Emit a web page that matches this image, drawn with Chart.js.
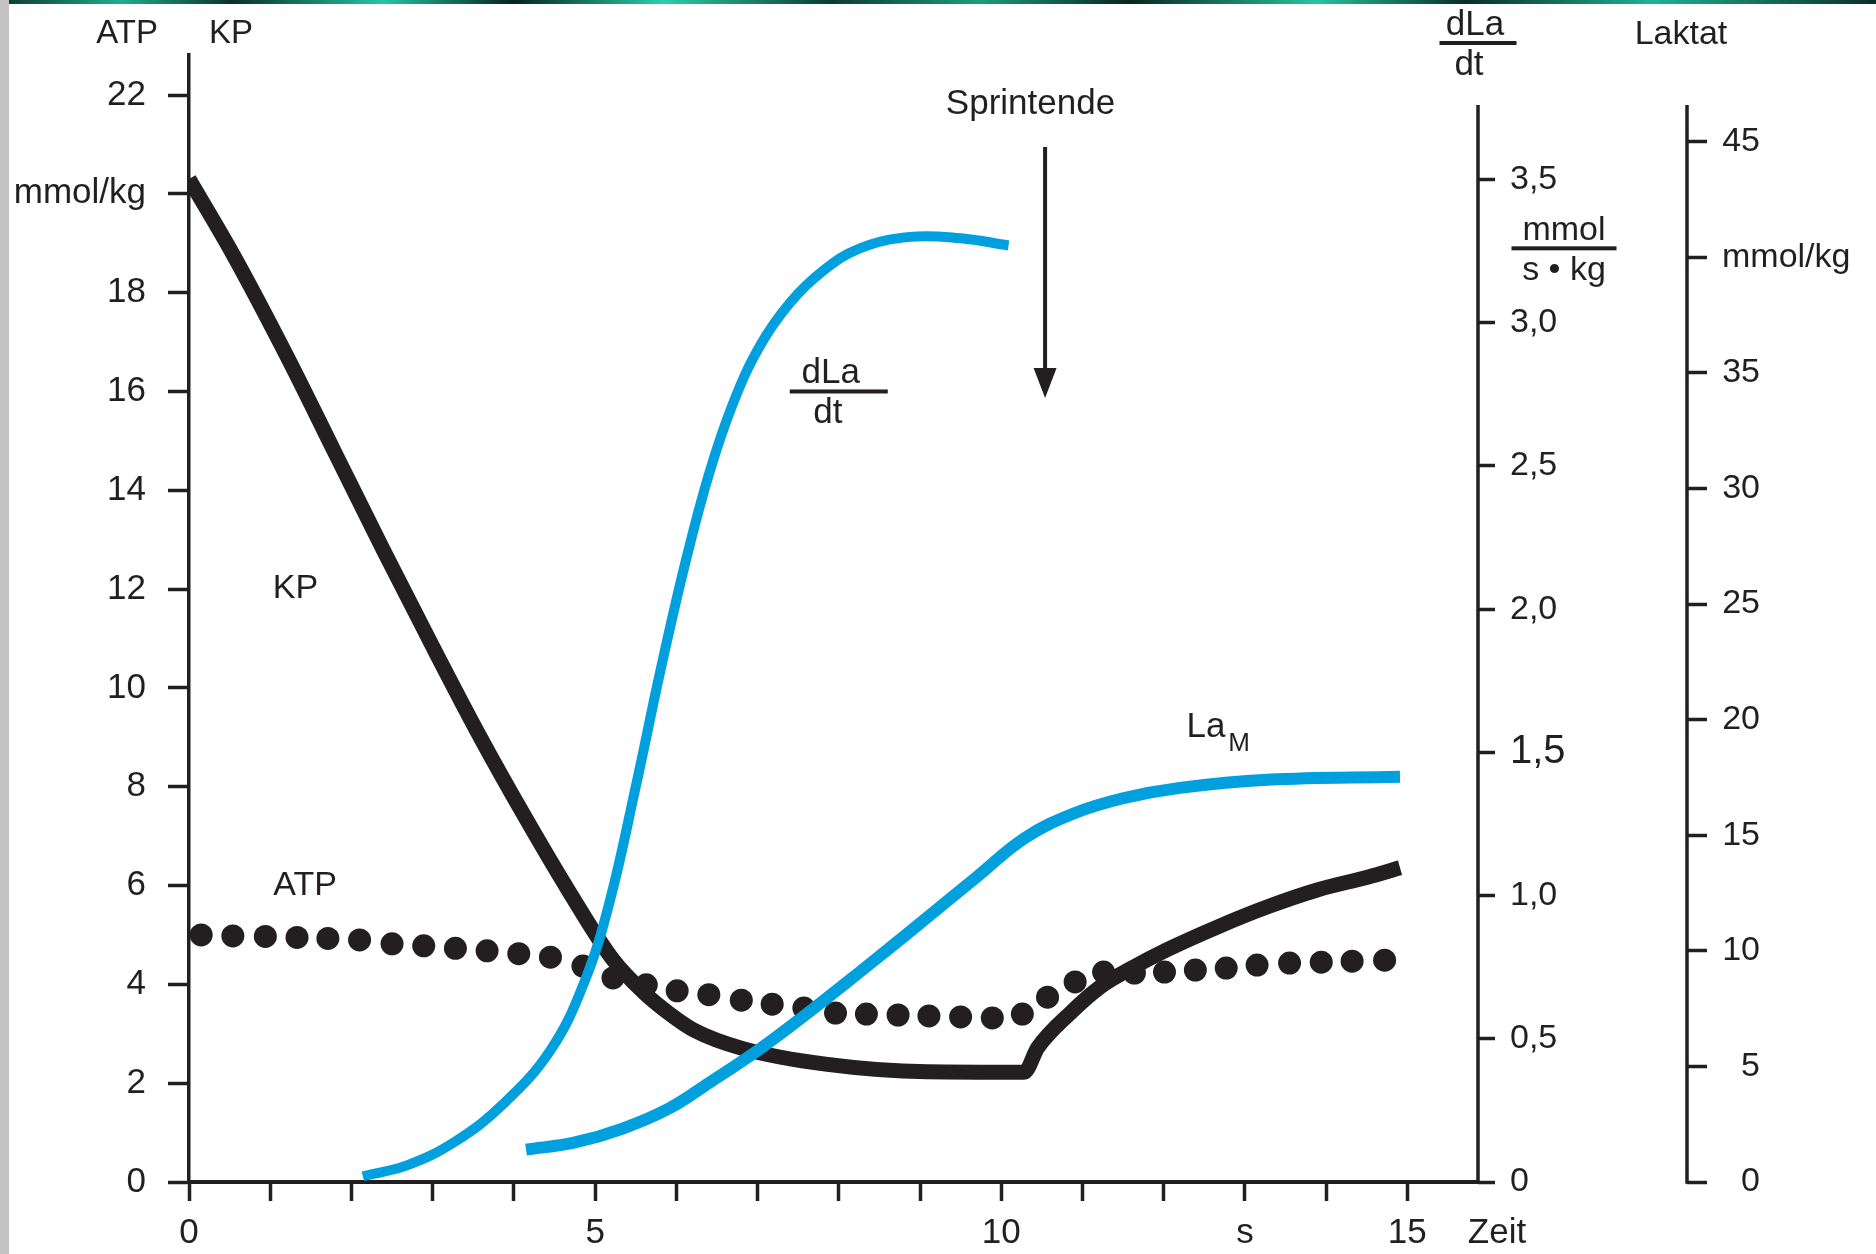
<!DOCTYPE html>
<html lang="de">
<head>
<meta charset="utf-8">
<title>ATP, KP und Laktat im Sprint</title>
<script src="https://cdn.jsdelivr.net/npm/chart.js@4.4.1/dist/chart.umd.min.js"></script>
<style>
  html, body { margin: 0; padding: 0; background: #fff; }
  #wrap { position: relative; width: 1876px; height: 1254px; overflow: hidden; }
  #sprint-chart { position: absolute; left: 0; top: 0; }
  #edge-left { position: absolute; left: 0; top: 0; width: 9px; height: 100%; background: #c3c3c3; }
  #edge-top {
    position: absolute; left: 9px; right: 0; top: 0; height: 4px;
    background: linear-gradient(90deg, #0f3d37 0%, #1fae8f 6%, #0b2f2b 12%, #23c7a3 20%, #06221f 27%,
      #2ad0aa 35%, #0d3a34 44%, #1b9d80 52%, #08251f 60%, #26c4a0 70%, #0a2d29 78%, #1eb393 88%, #0b2c28 100%);
  }
</style>
</head>
<body>
<div id="wrap">
  <canvas id="sprint-chart" width="1876" height="1254"></canvas>
  <div id="edge-left"></div>
  <div id="edge-top"></div>
</div>
<script>
// time axis (s)
var timeTicks = [0, 1, 2, 3, 4, 5, 6, 7, 8, 9, 10, 11, 12, 13, 14, 15];
var timeTickLabels = ['0', '', '', '', '', '5', '', '', '', '', '10', '', '', 's', '', '15'];

// left axis: ATP / KP in mmol/kg
var leftTicks = [0, 2, 4, 6, 8, 10, 12, 14, 16, 18, 20, 22];
var leftTickLabels = ['0', '2', '4', '6', '8', '10', '12', '14', '16', '18', 'mmol/kg', '22'];

// first right axis: dLa/dt in mmol/(s*kg)
var dlaTicks = [0, 0.5, 1, 1.5, 2, 2.5, 3, 3.5];
var dlaTickLabels = ['0', '0,5', '1,0', '1,5', '2,0', '2,5', '3,0', '3,5'];

// second right axis: Laktat in mmol/kg
var laktatTicks = [0, 5, 10, 15, 20, 25, 30, 35, 40, 45];
var laktatTickLabels = ['0', '5', '10', '15', '20', '25', '30', '35', '', '45'];

// Kreatinphosphat (KP)
var kpTime  = [0, 0.55, 1.21, 1.8, 2.39, 2.98, 3.57, 4.15, 4.69, 5.22, 5.59, 5.92, 6.21, 6.82, 7.86,
               9.09, 10.28, 10.45, 10.85, 11.22, 11.63, 12.04, 12.66, 13.28, 13.89, 14.51, 14.91];
var kpValue = [20.3, 18.75, 16.7, 14.75, 12.8, 10.9, 9.05, 7.35, 5.85, 4.5, 3.85, 3.4, 3.08, 2.7, 2.38,
               2.23, 2.22, 2.72, 3.42, 3.95, 4.35, 4.7, 5.16, 5.57, 5.91, 6.17, 6.36];

// ATP (dotted)
var atpTime  = [0.15, 0.54, 0.94, 1.33, 1.71, 2.1, 2.5, 2.89, 3.28, 3.67, 4.06, 4.45, 4.85, 5.22, 5.63,
                6.01, 6.4, 6.8, 7.18, 7.57, 7.96, 8.34, 8.73, 9.11, 9.5, 9.89, 10.26, 10.57, 10.91,
                11.26, 11.64, 12.01, 12.39, 12.77, 13.15, 13.55, 13.94, 14.32, 14.72];
var atpValue = [5.0, 4.98, 4.97, 4.95, 4.93, 4.9, 4.82, 4.78, 4.73, 4.68, 4.62, 4.55, 4.37, 4.13, 3.99,
                3.87, 3.79, 3.68, 3.6, 3.52, 3.42, 3.4, 3.38, 3.36, 3.34, 3.32, 3.4, 3.74, 4.05,
                4.25, 4.23, 4.25, 4.29, 4.33, 4.39, 4.43, 4.45, 4.47, 4.49];

// Laktatbildungsrate dLa/dt
var dlaTime  = [2.14, 2.7, 3.27, 3.86, 4.45, 4.87, 5.18, 5.5, 5.8, 6.1, 6.4, 6.7, 7.03, 7.4, 7.8,
                8.26, 8.88, 9.5, 10.09];
var dlaValue = [0.02, 0.06, 0.14, 0.27, 0.46, 0.7, 0.98, 1.38, 1.78, 2.15, 2.47, 2.72, 2.92, 3.07, 3.18,
                3.26, 3.3, 3.295, 3.27];

// Muskellaktat La_M
var lamTime  = [4.15, 4.74, 5.33, 5.92, 6.42, 7.03, 7.65, 8.26, 8.9, 9.7, 10.3, 10.9, 11.5, 12.2,
                13.28, 14.91];
var lamValue = [1.4, 1.7, 2.3, 3.2, 4.33, 5.76, 7.4, 9.09, 10.9, 13.2, 14.9, 15.95, 16.6, 17.05,
                17.4, 17.53];

var ink = '#231f20';
var blue = '#00a0df';
var fontFamily = '"Liberation Sans", Arial, Helvetica, sans-serif';

function pairs(xs, ys) {
  return xs.map(function(x, i) { return { x: x, y: ys[i] }; });
}

function fixedTicks(values) {
  return function(scale) {
    scale.ticks = values.map(function(v) { return { value: v }; });
  };
}

function labelFrom(values, labels) {
  return function(v) { return labels[values.indexOf(v)]; };
}

// headings, curve names, sprint marker and the shortened right-hand axis lines
var sprintNotes = {
  id: 'sprintNotes',
  afterDraw: function(chart) {
    var ctx = chart.ctx;
    var sx = chart.scales.x, sy = chart.scales.y, sd = chart.scales.dla, sl = chart.scales.laktat;
    function px(t) { return sx.getPixelForValue(t); }
    function py(v) { return sy.getPixelForValue(v); }
    function text(str, x, y, size, align, baseline) {
      ctx.font = size + 'px ' + fontFamily;
      ctx.textAlign = align || 'center';
      ctx.textBaseline = baseline || 'alphabetic';
      ctx.fillText(str, x, y);
    }
    // stacked fraction; dx shifts numerator and denominator against the bar
    function fraction(num, den, cx, ly, w, size, dxNum, dxDen) {
      text(num, cx + (dxNum || 0), ly - 8, size);
      ctx.fillRect(cx - w / 2, ly - 2, w, 4);
      text(den, cx + (dxDen || 0), ly + 32, size);
    }

    ctx.save();
    ctx.fillStyle = ink;
    ctx.strokeStyle = ink;

    var axisTop = sd.getPixelForValue(3.76);
    ctx.lineWidth = 3.5;
    ctx.beginPath();
    ctx.moveTo(sd.left, axisTop);
    ctx.lineTo(sd.left, sd.bottom + 1.75);
    ctx.moveTo(sl.left, axisTop);
    ctx.lineTo(sl.left, sl.bottom + 1.75);
    ctx.stroke();

    // axis headings
    text('ATP', sy.right - 31, 43, 33, 'right');
    text('KP', sy.right + 20, 43, 33, 'left');
    fraction('dLa', 'dt', sd.left, 43, 77, 35, -3, -9);
    text('Laktat', sl.left - 6, 44, 34);
    fraction('mmol', 's \u2022 kg', sd.left + 86, sd.getPixelForValue(3.26), 105, 34);
    text('mmol/kg', sl.left + 35, sl.getPixelForValue(40), 34, 'left', 'middle');
    text('Zeit', sx.right + 19, sx.top + 51, 35, 'center', 'middle');

    // curve names
    text('KP', px(1.31), py(12.0), 34, 'center', 'middle');
    text('ATP', px(1.43), py(6.0), 34, 'center', 'middle');
    fraction('dLa', 'dt', px(8.0), py(16.0), 98, 35, -8, -11);
    ctx.font = '35px ' + fontFamily;
    var laW = ctx.measureText('La').width;
    text('La', px(12.28), py(9.0), 35, 'left');
    text('M', px(12.28) + laW + 3, py(9.0) + 14, 26, 'left');

    // end of sprint
    var ax = px(10.54), a0 = py(20.95), tip = py(15.87);
    text('Sprintende', px(10.36), py(21.62), 35);
    ctx.lineWidth = 4;
    ctx.beginPath();
    ctx.moveTo(ax, a0);
    ctx.lineTo(ax, tip - 20);
    ctx.stroke();
    ctx.beginPath();
    ctx.moveTo(ax - 11.5, tip - 30);
    ctx.lineTo(ax + 11.5, tip - 30);
    ctx.lineTo(ax, tip);
    ctx.closePath();
    ctx.fill();

    ctx.restore();
  }
};

(function() {
  var ctx = document.getElementById('sprint-chart');
  var tickFont = { family: fontFamily, size: 34 };

  new Chart(ctx, {
    type: 'line',
    data: {
      datasets: [
        {
          label: 'dLa/dt',
          data: pairs(dlaTime, dlaValue),
          yAxisID: 'dla',
          borderColor: blue,
          borderWidth: 10,
          tension: 0.4,
          order: 0
        },
        {
          label: 'La_M',
          data: pairs(lamTime, lamValue),
          yAxisID: 'laktat',
          borderColor: blue,
          borderWidth: 12,
          tension: 0.4,
          order: 0
        },
        {
          label: 'KP',
          data: pairs(kpTime, kpValue),
          yAxisID: 'y',
          borderColor: ink,
          borderWidth: 15,
          cubicInterpolationMode: 'monotone',
          order: 1
        },
        {
          label: 'ATP',
          data: pairs(atpTime, atpValue),
          yAxisID: 'y',
          showLine: false,
          pointRadius: 11.5,
          pointBorderWidth: 0,
          pointBackgroundColor: ink,
          order: 2
        }
      ]
    },
    options: {
      responsive: false,
      animation: false,
      devicePixelRatio: 1,
      layout: { padding: { top: 55, left: 0, right: 116, bottom: 0 } },
      datasets: {
        line: {
          fill: false,
          pointRadius: 0,
          borderCapStyle: 'butt',
          borderJoinStyle: 'round',
          clip: 0
        }
      },
      plugins: {
        legend: { display: false },
        tooltip: { enabled: false }
      },
      scales: {
        x: {
          type: 'linear',
          min: 0,
          max: 15.87,
          afterFit: function(s) { s.height = 72; },
          afterBuildTicks: fixedTicks(timeTicks),
          ticks: {
            callback: labelFrom(timeTicks, timeTickLabels),
            autoSkip: false,
            maxRotation: 0,
            padding: 11,
            color: ink,
            font: { family: fontFamily, size: 35 }
          },
          grid: { drawOnChartArea: false, drawTicks: true, tickLength: 19, tickWidth: 3.5, tickColor: ink },
          border: { display: true, color: ink, width: 4 }
        },
        y: {
          type: 'linear',
          position: 'left',
          min: 0,
          max: 22.81,
          afterFit: function(s) { s.width = 189; },
          afterBuildTicks: fixedTicks(leftTicks),
          ticks: {
            callback: labelFrom(leftTicks, leftTickLabels),
            padding: 22,
            color: ink,
            font: { family: fontFamily, size: 35 }
          },
          grid: { drawOnChartArea: false, drawTicks: true, tickLength: 21, tickWidth: 3.5, tickColor: ink },
          border: { display: true, color: ink, width: 3.5 }
        },
        dla: {
          type: 'linear',
          position: 'right',
          min: 0,
          max: 3.935,
          afterFit: function(s) { s.width = 209; },
          afterBuildTicks: fixedTicks(dlaTicks),
          ticks: {
            callback: labelFrom(dlaTicks, dlaTickLabels),
            padding: 15,
            color: ink,
            crossAlign: 'near',
            font: function(c) {
              return { family: fontFamily, size: c.tick && c.tick.value === 1.5 ? 40 : 34 };
            }
          },
          grid: { drawOnChartArea: false, drawTicks: true, tickLength: 17, tickWidth: 3.5, tickColor: ink },
          border: { display: false }
        },
        laktat: {
          type: 'linear',
          position: 'right',
          min: 0,
          max: 48.75,
          // narrow box so that right-aligned numbers end where the unit label starts
          afterFit: function(s) { s.width = 73; },
          afterBuildTicks: fixedTicks(laktatTicks),
          ticks: {
            callback: labelFrom(laktatTicks, laktatTickLabels),
            padding: 15,
            color: ink,
            crossAlign: 'far',
            font: tickFont
          },
          grid: { drawOnChartArea: false, drawTicks: true, tickLength: 20, tickWidth: 3.5, tickColor: ink },
          border: { display: false }
        }
      }
    },
    plugins: [sprintNotes]
  });
})();
</script>
</body>
</html>
